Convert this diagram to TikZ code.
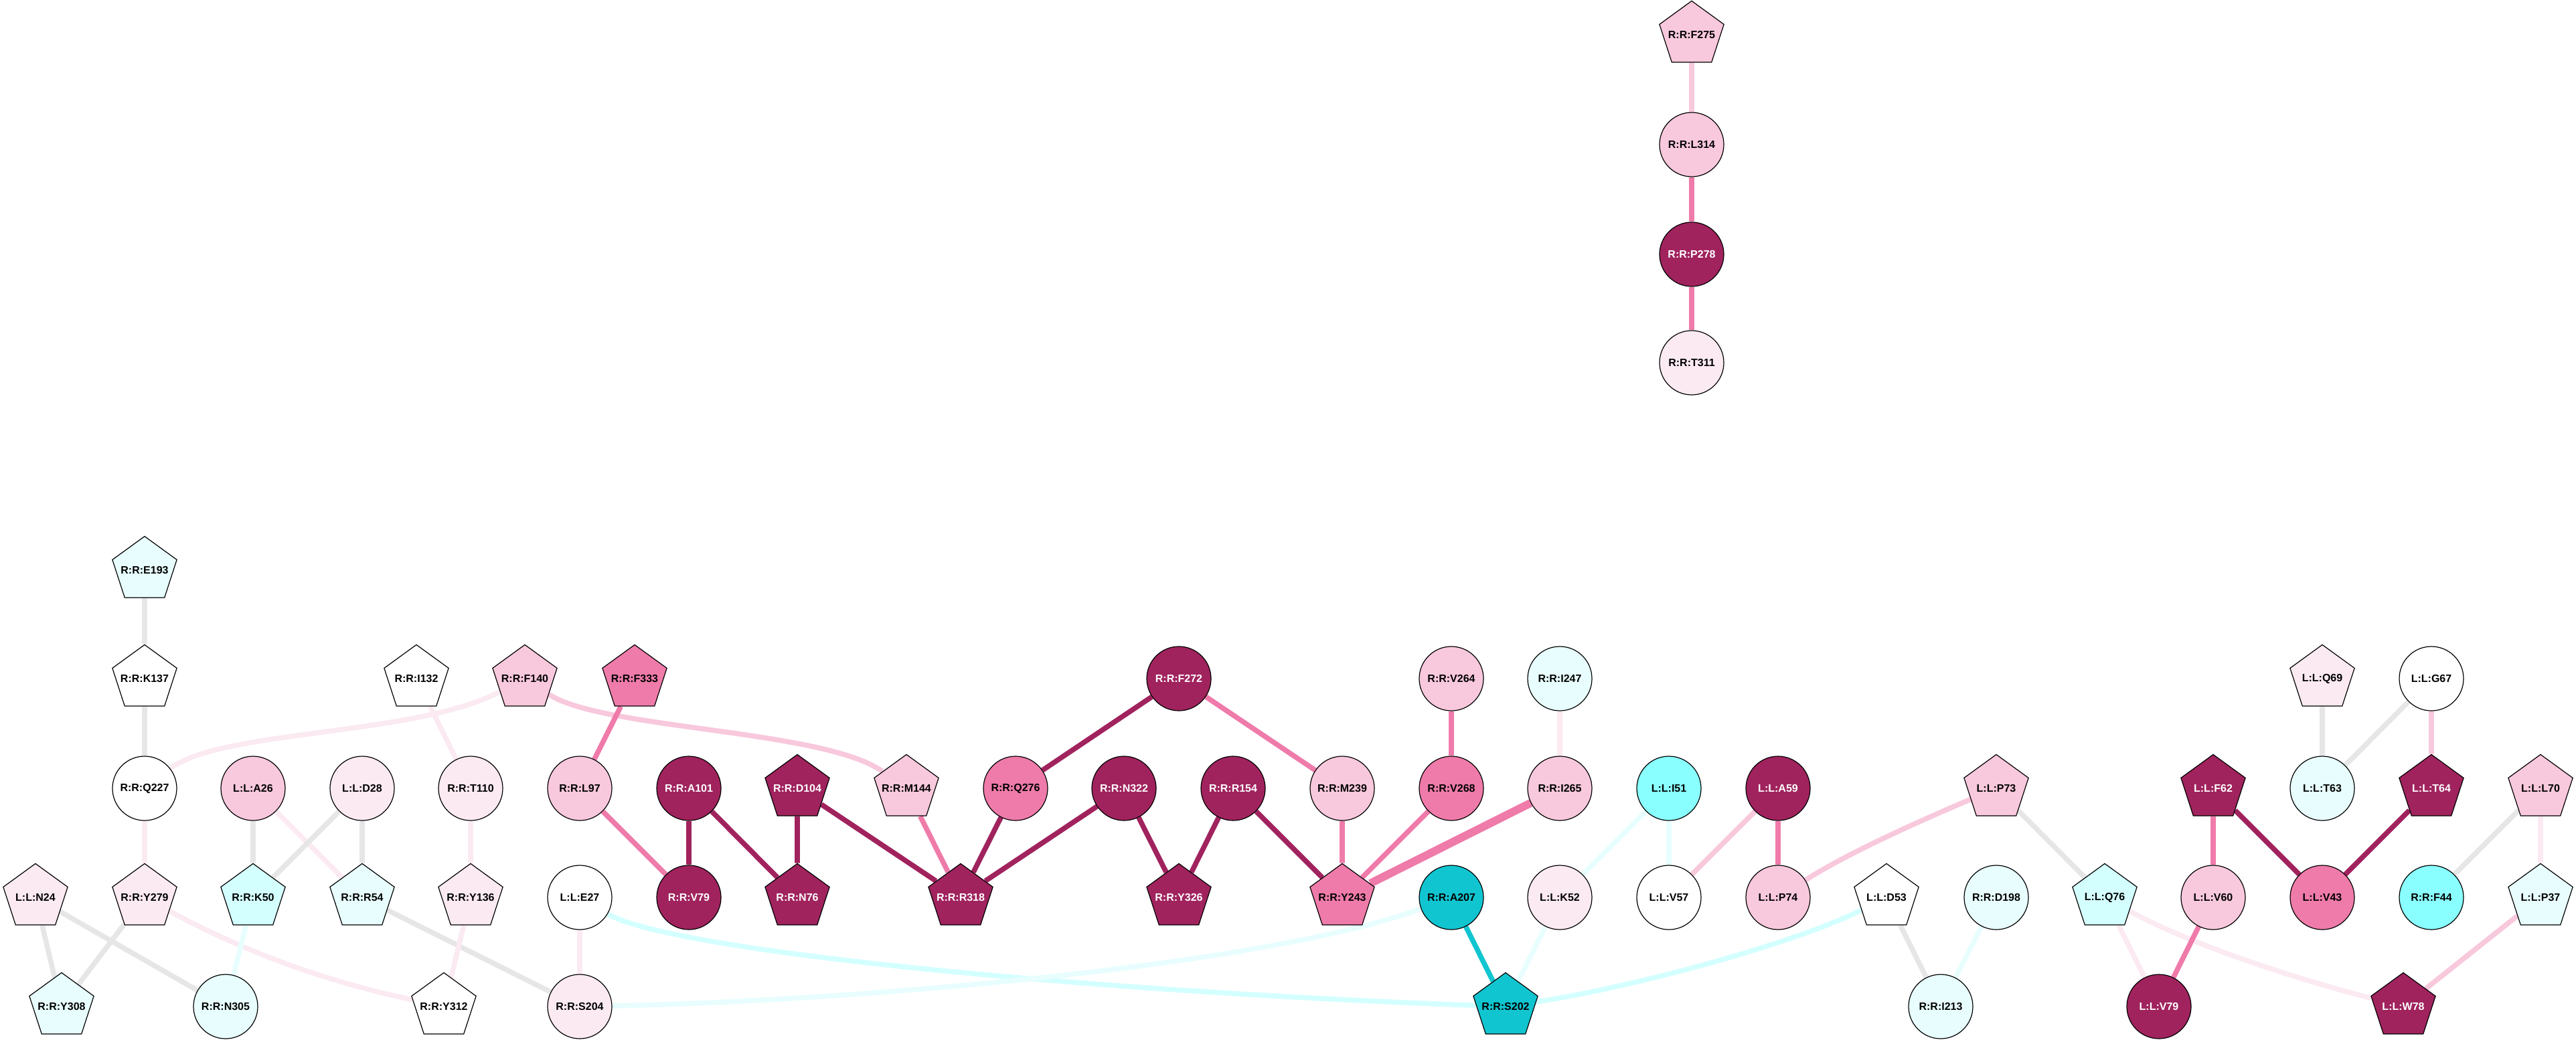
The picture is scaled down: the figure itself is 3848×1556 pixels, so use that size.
\documentclass[tikz,border=0pt]{standalone}
\usepackage{fontspec}
\setmainfont{Liberation Sans}
\usetikzlibrary{shapes.geometric,backgrounds}

\tikzset{
  res/.style={draw=black, line width=0.3pt, inner sep=0pt, text=black, font=\bfseries\fontsize{4}{5}\selectfont},
  rescirc/.style={res, circle, minimum size=24pt},
  respent/.style={res, regular polygon, regular polygon sides=5, inner sep=-4pt, minimum size=25.3pt},
  cdark/.style={fill={rgb, 255:red, 160; green, 35; blue, 94}, text=white},
  cmid/.style={fill={rgb, 255:red, 239; green, 123; blue, 170}},
  cpink/.style={fill={rgb, 255:red, 248; green, 200; blue, 220}},
  cpale/.style={fill={rgb, 255:red, 251; green, 234; blue, 242}},
  cwhite/.style={fill=white},
  cpcyan/.style={fill={rgb, 255:red, 232; green, 254; blue, 254}},
  clcyan/.style={fill={rgb, 255:red, 212; green, 255; blue, 255}},
  ccyan/.style={fill={rgb, 255:red, 138; green, 255; blue, 255}},
  cteal/.style={fill={rgb, 255:red, 17; green, 197; blue, 208}},
  lnk/.style={line width=1.9pt},
  edark/.style={lnk, draw={rgb, 255:red, 160; green, 35; blue, 94}},
  emid/.style={lnk, draw={rgb, 255:red, 239; green, 123; blue, 170}},
  epink/.style={lnk, draw={rgb, 255:red, 248; green, 200; blue, 220}},
  epale/.style={lnk, draw={rgb, 255:red, 251; green, 234; blue, 242}},
  egrey/.style={lnk, draw={rgb, 255:red, 230; green, 230; blue, 230}},
  epcyan/.style={lnk, draw={rgb, 255:red, 232; green, 254; blue, 254}},
  elcyan/.style={lnk, draw={rgb, 255:red, 212; green, 255; blue, 255}},
  eteal/.style={lnk, draw={rgb, 255:red, 17; green, 197; blue, 208}},
}

\begin{document}
\begin{tikzpicture}[x=0.25pt,y=0.25pt,yscale=-1,xscale=1]
\useasboundingbox (0,0) rectangle (3848,1556);

%Nodes: top chain
\draw (2527,52) node [respent, cpink] (f275) {R:R:F275};
\draw (2527,216) node [rescirc, cpink] (l314) {R:R:L314};
\draw (2527,380) node [rescirc, cdark] (p278) {R:R:P278};
\draw (2527,542) node [rescirc, cpale] (t311) {R:R:T311};

%Nodes: row 0 and 1
\draw (216,852) node [respent, cpcyan] (e193) {R:R:E193};
\draw (216,1014) node [respent, cwhite] (k137) {R:R:K137};
\draw (622,1014) node [respent, cwhite] (i132) {R:R:I132};
\draw (784,1014) node [respent, cpink] (f140) {R:R:F140};
\draw (948,1014) node [respent, cmid] (f333) {R:R:F333};
\draw (1761,1014) node [rescirc, cdark] (f272) {R:R:F272};
\draw (2168,1014) node [rescirc, cpink] (v264) {R:R:V264};
\draw (2330,1014) node [rescirc, cpcyan] (i247) {R:R:I247};
\draw (3469,1014) node [respent, cpale] (q69) {L:L:Q69};
\draw (3632,1014) node [rescirc, cwhite] (g67) {L:L:G67};

%Nodes: row 2
\draw (216,1178) node [rescirc, cwhite] (q227) {R:R:Q227};
\draw (378,1178) node [rescirc, cpink] (a26) {L:L:A26};
\draw (541,1178) node [rescirc, cpale] (d28) {L:L:D28};
\draw (703,1178) node [rescirc, cpale] (t110) {R:R:T110};
\draw (866,1178) node [rescirc, cpink] (l97) {R:R:L97};
\draw (1029,1178) node [rescirc, cdark] (a101) {R:R:A101};
\draw (1191,1178) node [respent, cdark] (d104) {R:R:D104};
\draw (1354,1178) node [respent, cpink] (m144) {R:R:M144};
\draw (1517,1178) node [rescirc, cmid] (q276) {R:R:Q276};
\draw (1679,1178) node [rescirc, cdark] (n322) {R:R:N322};
\draw (1842,1178) node [rescirc, cdark] (r154) {R:R:R154};
\draw (2005,1178) node [rescirc, cpink] (m239) {R:R:M239};
\draw (2168,1178) node [rescirc, cmid] (v268) {R:R:V268};
\draw (2330,1178) node [rescirc, cpink] (i265) {R:R:I265};
\draw (2493,1178) node [rescirc, ccyan] (i51) {L:L:I51};
\draw (2656,1178) node [rescirc, cdark] (a59) {L:L:A59};
\draw (2982,1178) node [respent, cpink] (p73) {L:L:P73};
\draw (3306,1178) node [respent, cdark] (f62) {L:L:F62};
\draw (3469,1178) node [rescirc, cpcyan] (t63) {L:L:T63};
\draw (3632,1178) node [respent, cdark] (t64) {L:L:T64};
\draw (3795,1178) node [respent, cpink] (l70) {L:L:L70};

%Nodes: row 3
\draw (53,1341) node [respent, cpale] (n24) {L:L:N24};
\draw (216,1341) node [respent, cpale] (y279) {R:R:Y279};
\draw (378,1341) node [respent, clcyan] (k50) {R:R:K50};
\draw (541,1341) node [respent, cpcyan] (r54) {R:R:R54};
\draw (703,1341) node [respent, cpale] (y136) {R:R:Y136};
\draw (866,1341) node [rescirc, cwhite] (e27) {L:L:E27};
\draw (1029,1341) node [rescirc, cdark] (v79r) {R:R:V79};
\draw (1191,1341) node [respent, cdark] (n76) {R:R:N76};
\draw (1435,1341) node [respent, cdark] (r318) {R:R:R318};
\draw (1761,1341) node [respent, cdark] (y326) {R:R:Y326};
\draw (2005,1341) node [respent, cmid] (y243) {R:R:Y243};
\draw (2168,1341) node [rescirc, cteal] (a207) {R:R:A207};
\draw (2330,1341) node [rescirc, cpale] (k52) {L:L:K52};
\draw (2493,1341) node [rescirc, cwhite] (v57) {L:L:V57};
\draw (2656,1341) node [rescirc, cpink] (p74) {L:L:P74};
\draw (2818,1341) node [respent, cwhite] (d53) {L:L:D53};
\draw (2982,1341) node [rescirc, cpcyan] (d198) {R:R:D198};
\draw (3144,1341) node [respent, clcyan] (q76) {L:L:Q76};
\draw (3306,1341) node [rescirc, cpink] (v60) {L:L:V60};
\draw (3469,1341) node [rescirc, cmid] (v43) {L:L:V43};
\draw (3632,1341) node [rescirc, ccyan] (f44) {R:R:F44};
\draw (3795,1341) node [respent, cpcyan] (p37) {L:L:P37};

%Nodes: row 4
\draw (92,1504) node [respent, cpcyan] (y308) {R:R:Y308};
\draw (337,1504) node [rescirc, cpcyan] (n305) {R:R:N305};
\draw (663,1504) node [respent, cwhite] (y312) {R:R:Y312};
\draw (866,1504) node [rescirc, cpale] (s204) {R:R:S204};
\draw (2249,1504) node [respent, cteal] (s202) {R:R:S202};
\draw (2899,1504) node [rescirc, cpcyan] (i213) {R:R:I213};
\draw (3225,1504) node [rescirc, cdark] (v79l) {L:L:V79};
\draw (3590,1504) node [respent, cdark] (w78) {L:L:W78};

%Edges
\begin{scope}[on background layer]
\draw [epink] (f275) -- (l314);
\draw [emid] (l314) -- (p278);
\draw [emid] (p278) -- (t311);
\draw [egrey] (e193) -- (k137);
\draw [egrey] (k137) -- (q227);
\draw [epale] (q227) -- (y279);
\draw [epale] (q227) .. controls (330,1090) and (620,1100) .. (f140);
\draw [epink] (f140) .. controls (900,1090) and (1230,1090) .. (m144);
\draw [epale] (i132) -- (t110);
\draw [emid] (f333) -- (l97);
\draw [emid] (l97) -- (v79r);
\draw [egrey] (a26) -- (k50);
\draw [epale] (a26) -- (r54);
\draw [egrey] (d28) -- (k50);
\draw [egrey] (d28) -- (r54);
\draw [epale] (t110) -- (y136);
\draw [egrey] (n24) -- (y308);
\draw [egrey] (n24) -- (n305);
\draw [egrey] (y279) -- (y308);
\draw [epale] (y279) .. controls (370,1425) and (490,1467) .. (y312);
\draw [epcyan] (k50) -- (n305);
\draw [egrey] (r54) -- (s204);
\draw [epale] (y136) -- (y312);
\draw [epale] (e27) -- (s204);
\draw [elcyan] (e27) .. controls (1000,1420) and (1600,1480) .. (s202);
\draw [epcyan] (s204) .. controls (1300,1495) and (1900,1440) .. (a207);
\draw [edark] (a101) -- (v79r);
\draw [edark] (a101) -- (n76);
\draw [edark] (d104) -- (n76);
\draw [edark] (d104) -- (r318);
\draw [emid] (m144) -- (r318);
\draw [edark] (q276) -- (r318);
\draw [edark] (n322) -- (r318);
\draw [edark] (f272) -- (q276);
\draw [emid] (f272) -- (m239);
\draw [edark] (n322) -- (y326);
\draw [edark] (r154) -- (y326);
\draw [edark] (r154) -- (y243);
\draw [emid] (m239) -- (y243);
\draw [emid] (v268) -- (y243);
\draw [emid, line width=3pt] (i265) -- (y243);
\draw [emid] (v264) -- (v268);
\draw [epale] (i247) -- (i265);
\draw [eteal] (a207) -- (s202);
\draw [epcyan] (k52) -- (s202);
\draw [epcyan] (i51) -- (k52);
\draw [epcyan] (i51) -- (v57);
\draw [epink] (a59) -- (v57);
\draw [emid] (a59) -- (p74);
\draw [epink] (p73) .. controls (2860,1230) and (2760,1275) .. (p74);
\draw [egrey] (p73) -- (q76);
\draw [egrey] (d53) -- (i213);
\draw [elcyan] (d53) .. controls (2680,1410) and (2440,1475) .. (s202);
\draw [epcyan] (d198) -- (i213);
\draw [epale] (q76) -- (v79l);
\draw [epale] (q76) .. controls (3270,1410) and (3420,1460) .. (w78);
\draw [emid] (f62) -- (v60);
\draw [edark] (f62) -- (v43);
\draw [emid] (v60) -- (v79l);
\draw [egrey] (q69) -- (t63);
\draw [egrey] (g67) -- (t63);
\draw [epink] (g67) -- (t64);
\draw [edark] (t64) -- (v43);
\draw [egrey] (l70) -- (f44);
\draw [epale] (l70) -- (p37);
\draw [epink] (p37) -- (w78);
\end{scope}

\end{tikzpicture}
\end{document}
